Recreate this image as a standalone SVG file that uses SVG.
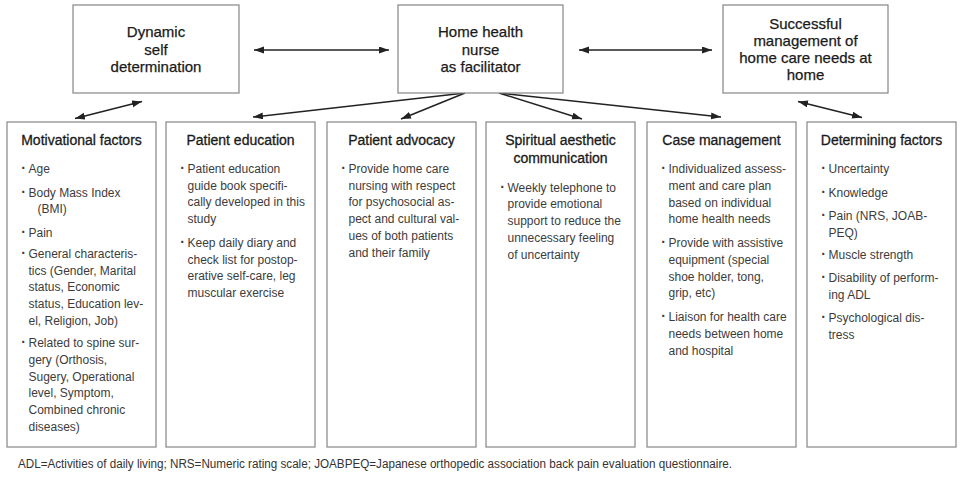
<svg xmlns="http://www.w3.org/2000/svg" width="960" height="482" viewBox="0 0 960 482">
<style>
.box{fill:#fff;stroke:#858585;stroke-width:1.2}
.top{font-family:"Liberation Sans",Arial,sans-serif;font-size:15px;fill:#1a1a1a;text-anchor:middle;stroke:#1a1a1a;stroke-width:0.25}
.ttl{font-family:"Liberation Sans",Arial,sans-serif;font-size:14px;fill:#1a1a1a;text-anchor:middle;stroke:#1a1a1a;stroke-width:0.3}
.bd{font-family:"Liberation Sans",Arial,sans-serif;font-size:12px;fill:#3c3c3c}
.bl{font-family:"Liberation Sans",Arial,sans-serif;font-size:14px;font-weight:bold;fill:#3c3c3c;text-anchor:middle}
.ft{font-family:"Liberation Sans",Arial,sans-serif;font-size:12px;fill:#333}
.conn{stroke:#222;stroke-width:1.5;fill:none}
</style>
<defs>
<marker id="ah" markerUnits="userSpaceOnUse" markerWidth="11" markerHeight="8" refX="10" refY="3.5" orient="auto-start-reverse">
<path d="M0,0 L10,3.5 L0,7 z" fill="#222"/>
</marker>
</defs>
<rect width="960" height="482" fill="#fff"/>

<g id="connectors">
<line class="conn" x1="254" y1="50" x2="389" y2="50" marker-start="url(#ah)" marker-end="url(#ah)"/>
<line class="conn" x1="579" y1="50" x2="712" y2="50" marker-start="url(#ah)" marker-end="url(#ah)"/>
<line class="conn" x1="142" y1="101.5" x2="75" y2="118.5" marker-start="url(#ah)" marker-end="url(#ah)"/>
<line class="conn" x1="798" y1="101.5" x2="862" y2="117.5" marker-start="url(#ah)" marker-end="url(#ah)"/>
<line class="conn" x1="465" y1="93" x2="253" y2="117" marker-end="url(#ah)"/>
<line class="conn" x1="465" y1="93" x2="401" y2="119" marker-end="url(#ah)"/>
<line class="conn" x1="499" y1="93" x2="582" y2="119" marker-end="url(#ah)"/>
<line class="conn" x1="499" y1="93" x2="721" y2="117" marker-end="url(#ah)"/>
</g>

<g id="dynamic">
<rect class="box" x="73" y="5" width="166" height="88"/>
<text class="top" x="156" y="37">Dynamic</text>
<text class="top" x="156" y="54.5">self</text>
<text class="top" x="156" y="72">determination</text>
</g>
<g id="nurse">
<rect class="box" x="398" y="5" width="165" height="88"/>
<text class="top" x="480.5" y="37">Home health</text>
<text class="top" x="480.5" y="54.5">nurse</text>
<text class="top" x="480.5" y="72">as facilitator</text>
</g>
<g id="successful">
<rect class="box" x="723" y="5" width="165" height="88"/>
<text class="top" x="805.5" y="29">Successful</text>
<text class="top" x="805.5" y="46">management of</text>
<text class="top" x="805.5" y="63">home care needs at</text>
<text class="top" x="805.5" y="80">home</text>
</g>

<g id="motivational">
<rect class="box" x="7" y="122" width="149" height="325"/>
<text class="ttl" x="81.5" y="145">Motivational factors</text>
<text class="bl" x="23.5" y="173">·</text><text class="bd" x="28.5" y="173">Age</text>
<text class="bl" x="23.5" y="196.5">·</text><text class="bd" x="28.5" y="196.5">Body Mass Index</text>
<text class="bd" x="37.5" y="213">(BMI)</text>
<text class="bl" x="23.5" y="236.5">·</text><text class="bd" x="28.5" y="236.5">Pain</text>
<text class="bl" x="23.5" y="258">·</text><text class="bd" x="28.5" y="258">General characteris-</text>
<text class="bd" x="28.5" y="274.7">tics (Gender, Marital</text>
<text class="bd" x="28.5" y="291.4">status, Economic</text>
<text class="bd" x="28.5" y="308.1">status, Education lev-</text>
<text class="bd" x="28.5" y="324.8">el, Religion, Job)</text>
<text class="bl" x="23.5" y="347.3">·</text><text class="bd" x="28.5" y="347.3">Related to spine sur-</text>
<text class="bd" x="28.5" y="364">gery (Orthosis,</text>
<text class="bd" x="28.5" y="380.7">Sugery, Operational</text>
<text class="bd" x="28.5" y="397.4">level, Symptom,</text>
<text class="bd" x="28.5" y="414.1">Combined chronic</text>
<text class="bd" x="28.5" y="430.8">diseases)</text>
</g>

<g id="education">
<rect class="box" x="166" y="122" width="149" height="325"/>
<text class="ttl" x="240.5" y="145">Patient education</text>
<text class="bl" x="182.5" y="173">·</text><text class="bd" x="187.5" y="173">Patient education</text>
<text class="bd" x="187.5" y="189.7">guide book specifi-</text>
<text class="bd" x="187.5" y="206.4">cally developed in this</text>
<text class="bd" x="187.5" y="223.1">study</text>
<text class="bl" x="182.5" y="247">·</text><text class="bd" x="187.5" y="247">Keep daily diary and</text>
<text class="bd" x="187.5" y="263.7">check list for postop-</text>
<text class="bd" x="187.5" y="280.4">erative self-care, leg</text>
<text class="bd" x="187.5" y="297.1">muscular exercise</text>
</g>

<g id="advocacy">
<rect class="box" x="327" y="122" width="149" height="325"/>
<text class="ttl" x="401.5" y="145">Patient advocacy</text>
<text class="bl" x="343.5" y="173">·</text><text class="bd" x="348.5" y="173">Provide home care</text>
<text class="bd" x="348.5" y="189.7">nursing with respect</text>
<text class="bd" x="348.5" y="206.4">for psychosocial as-</text>
<text class="bd" x="348.5" y="223.1">pect and cultural val-</text>
<text class="bd" x="348.5" y="239.8">ues of both patients</text>
<text class="bd" x="348.5" y="256.5">and their family</text>
</g>

<g id="spiritual">
<rect class="box" x="486" y="122" width="149" height="325"/>
<text class="ttl" x="560.5" y="145">Spiritual aesthetic</text>
<text class="ttl" x="560.5" y="163">communication</text>
<text class="bl" x="502.5" y="191.7">·</text><text class="bd" x="507.5" y="191.7">Weekly telephone to</text>
<text class="bd" x="507.5" y="208.4">provide emotional</text>
<text class="bd" x="507.5" y="225.1">support to reduce the</text>
<text class="bd" x="507.5" y="241.8">unnecessary feeling</text>
<text class="bd" x="507.5" y="258.5">of uncertainty</text>
</g>

<g id="case">
<rect class="box" x="647" y="122" width="149" height="325"/>
<text class="ttl" x="721.5" y="145">Case management</text>
<text class="bl" x="663.5" y="173">·</text><text class="bd" x="668.5" y="173">Individualized assess-</text>
<text class="bd" x="668.5" y="189.8">ment and care plan</text>
<text class="bd" x="668.5" y="206.6">based on individual</text>
<text class="bd" x="668.5" y="223.4">home health needs</text>
<text class="bl" x="663.5" y="247">·</text><text class="bd" x="668.5" y="247">Provide with assistive</text>
<text class="bd" x="668.5" y="263.8">equipment (special</text>
<text class="bd" x="668.5" y="280.6">shoe holder, tong,</text>
<text class="bd" x="668.5" y="297.4">grip, etc)</text>
<text class="bl" x="663.5" y="321">·</text><text class="bd" x="668.5" y="321">Liaison for health care</text>
<text class="bd" x="668.5" y="337.8">needs between home</text>
<text class="bd" x="668.5" y="354.6">and hospital</text>
</g>

<g id="determining">
<rect class="box" x="807" y="122" width="149" height="325"/>
<text class="ttl" x="881.5" y="144.5">Determining factors</text>
<text class="bl" x="823.5" y="173">·</text><text class="bd" x="828.5" y="173">Uncertainty</text>
<text class="bl" x="823.5" y="196.5">·</text><text class="bd" x="828.5" y="196.5">Knowledge</text>
<text class="bl" x="823.5" y="220">·</text><text class="bd" x="828.5" y="220">Pain (NRS, JOAB-</text>
<text class="bd" x="828.5" y="236.7">PEQ)</text>
<text class="bl" x="823.5" y="259">·</text><text class="bd" x="828.5" y="259">Muscle strength</text>
<text class="bl" x="823.5" y="282">·</text><text class="bd" x="828.5" y="282">Disability of perform-</text>
<text class="bd" x="828.5" y="298.7">ing ADL</text>
<text class="bl" x="823.5" y="322">·</text><text class="bd" x="828.5" y="322">Psychological dis-</text>
<text class="bd" x="828.5" y="338.7">tress</text>
</g>

<text class="ft" x="18" y="468" textLength="714" lengthAdjust="spacingAndGlyphs">ADL=Activities of daily living; NRS=Numeric rating scale; JOABPEQ=Japanese orthopedic association back pain evaluation questionnaire.</text>
</svg>
